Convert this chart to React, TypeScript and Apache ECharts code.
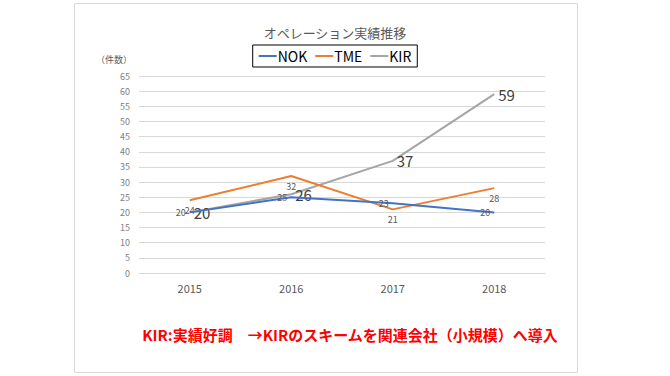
import React, { useEffect, useRef } from "react";
import * as echarts from "echarts";

const categories = ["2015", "2016", "2017", "2018"];
const nokValues = [20, 25, 23, 20];
const tmeValues = [24, 32, 21, 28];
const kirValues = [20, 26, 37, 59];
const titleText = "オペレーション実績推移";
const unitText = "（件数）";
const noteText = "KIR:実績好調　→KIRのスキームを関連会社（小規模）へ導入";

const FONT = "'Noto Sans CJK JP', 'Noto Sans', sans-serif";

export default function App() {
  const ref = useRef<HTMLDivElement>(null);
  useEffect(() => {
    if (!ref.current) return;
    const chart = echarts.init(ref.current, undefined, { renderer: "svg" });
    chart.setOption({
      animation: false,
      backgroundColor: "#ffffff",
      textStyle: { fontFamily: FONT },
      title: {
        text: titleText,
        left: "center",
        top: 21,
        textStyle: { fontSize: 13, fontWeight: "normal", color: "#595959", fontFamily: FONT },
      },
      legend: {
        data: ["NOK", "TME", "KIR"],
        left: "center",
        top: 45,
        borderColor: "#000000",
        borderWidth: 1,
        padding: [4, 6, 4, 6],
        itemGap: 8,
        itemWidth: 18,
        itemHeight: 2,
        icon: "rect",
        textStyle: { fontSize: 14, color: "#000000", fontFamily: FONT, padding: [0, 0, 0, -4] },
      },
      grid: { left: 139, right: 125, top: 76, bottom: 103, containLabel: false },
      xAxis: {
        type: "category",
        data: categories,
        boundaryGap: true,
        axisLine: { show: true, lineStyle: { color: "#d9d9d9" } },
        axisTick: { show: false },
        axisLabel: { fontSize: 11, color: "#595959", margin: 9, fontFamily: FONT },
      },
      yAxis: {
        type: "value",
        min: 0,
        max: 65,
        interval: 5,
        axisLine: { show: false },
        axisTick: { show: false },
        axisLabel: { fontSize: 9, color: "#7f7f7f", margin: 9, fontFamily: FONT },
        splitLine: { lineStyle: { color: "#d9d9d9", width: 1 } },
      },
      graphic: [
        {
          type: "rect",
          shape: { x: 74.5, y: 3.5, width: 503, height: 369 },
          style: { fill: "none", stroke: "#d9d9d9", lineWidth: 1 },
          silent: true,
        },
        {
          type: "text",
          x: 96,
          y: 55,
          style: { text: unitText, fontSize: 9, fill: "#595959", fontFamily: FONT },
        },
        {
          type: "text",
          x: 350,
          y: 334,
          style: {
            text: noteText,
            fontSize: 15,
            fontWeight: "bold",
            fill: "#ff0000",
            align: "center",
            verticalAlign: "middle",
            fontFamily: FONT,
          },
        },
      ],
      series: [
        {
          name: "NOK",
          type: "line",
          data: nokValues,
          symbol: "circle",
          symbolSize: 0,
          showSymbol: true,
          lineStyle: { color: "#4472C4", width: 2 },
          itemStyle: { color: "#4472C4" },
          label: { show: true, position: "left", distance: 4, fontSize: 9, color: "#595959", fontFamily: FONT },
          z: 3,
        },
        {
          name: "TME",
          type: "line",
          data: tmeValues,
          symbol: "circle",
          symbolSize: 0,
          showSymbol: true,
          lineStyle: { color: "#ED7D31", width: 2 },
          itemStyle: { color: "#ED7D31" },
          label: { show: true, position: "bottom", distance: 6, fontSize: 9, color: "#595959", fontFamily: FONT },
          z: 2,
        },
        {
          name: "KIR",
          type: "line",
          data: kirValues,
          symbol: "circle",
          symbolSize: 0,
          showSymbol: true,
          lineStyle: { color: "#A5A5A5", width: 2 },
          itemStyle: { color: "#A5A5A5" },
          label: { show: true, position: "right", distance: 4, fontSize: 15, color: "#404040", fontFamily: FONT },
          z: 1,
        },
      ],
    });
    return () => chart.dispose();
  }, []);
  return (
    <div
      ref={ref}
      style={{ position: "fixed", left: 0, top: 0, width: 670, height: 376, background: "#fff" }}
    />
  );
}
